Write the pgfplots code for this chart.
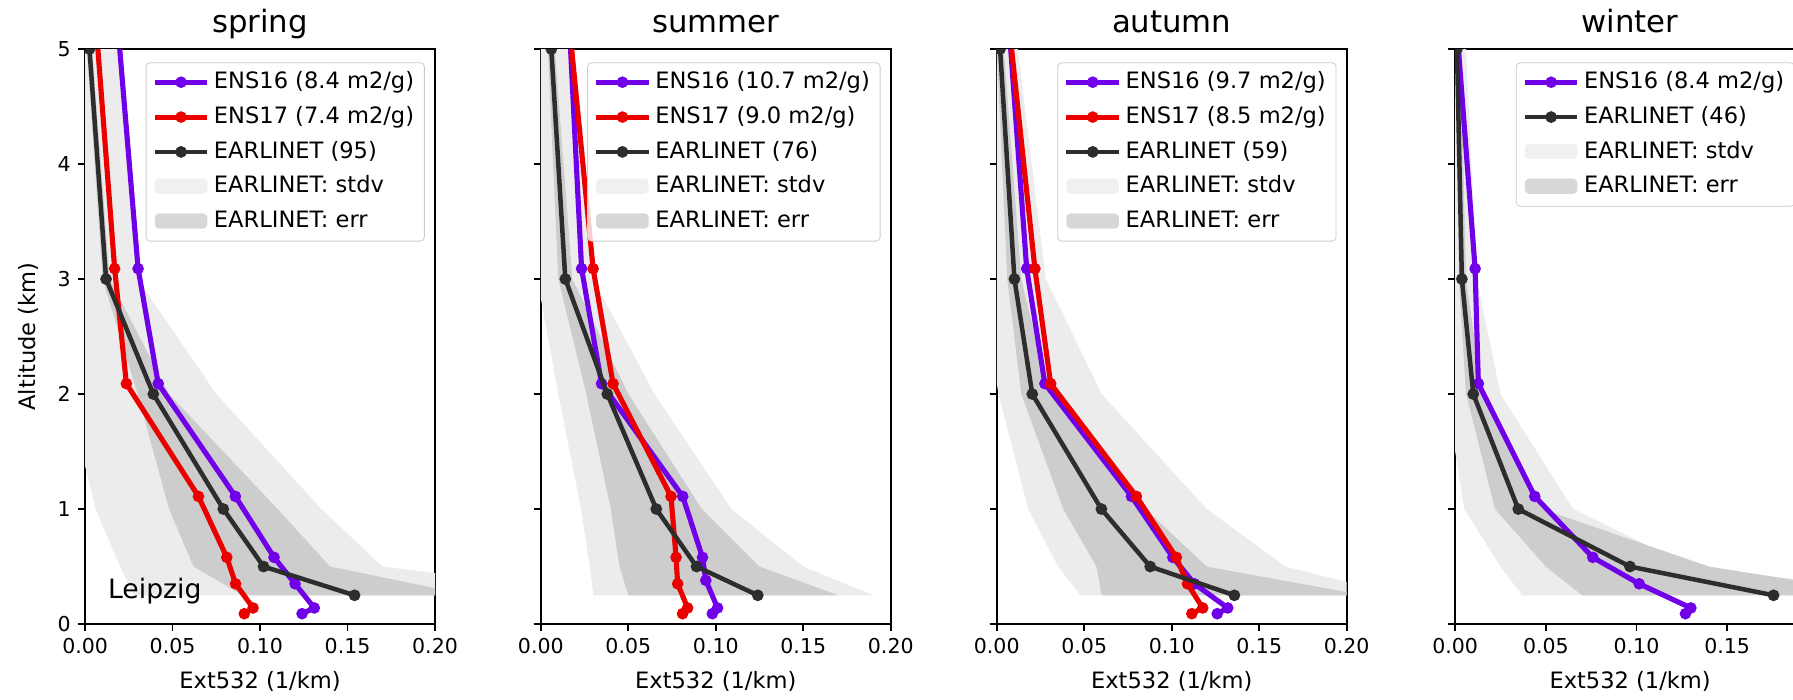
\documentclass[border=0pt]{standalone}
\usepackage{pgfplots}
\pgfplotsset{compat=1.18}
\usepackage{fontspec}
\setmainfont{DejaVu Sans}

\definecolor{ens16}{RGB}{112,0,232}
\definecolor{ens17}{RGB}{235,0,0}
\definecolor{earl}{RGB}{45,45,45}
\definecolor{stdvfill}{RGB}{236,236,236}
\definecolor{errfill}{RGB}{205,205,205}

\pgfplotsset{
  longleg/.style={legend image code/.code={\draw[mark repeat=2,mark phase=2,##1] plot coordinates {(0cm,0cm) (0.45cm,0cm) (0.9cm,0cm)};}},
  fillleg/.style={legend image code/.code={\fill[##1] (0cm,-0.12cm) rectangle (0.9cm,0.14cm);}},
  season/.style={
    scale only axis, width=170.7pt, height=280.5pt,
    xmin=0, xmax=0.2, ymin=0, ymax=5,
    xtick={0,0.05,0.1,0.15,0.2}, ytick={0,1,2,3,4,5},
    tick align=outside, tick pos=left,
    major tick length=3.5pt,
    tick style={black, line width=0.8pt},
    axis line style={line width=0.8pt},
    xticklabel style={/pgf/number format/fixed, /pgf/number format/fixed zerofill, /pgf/number format/precision=2},
    /pgf/number format/assume math mode=true,
    tick label style={font=\fontsize{10}{12}\selectfont},
    label style={font=\fontsize{11}{13}\selectfont},
    every axis title/.style={at={(0.5,1)}, anchor=base, yshift=8pt, font=\fontsize{15}{18}\selectfont},
    xlabel={Ext532 (1/km)},
    xlabel style={at={(axis description cs:0.5,-0.099)}, anchor=center},
    legend style={at={(1,1)}, anchor=north east, xshift=-5pt, yshift=-6.5pt,
      font=\fontsize{11}{13}\selectfont, draw=black!20, rounded corners=2pt,
      fill=white, fill opacity=0.8, text opacity=1, row sep=2pt,
      nodes={inner sep=2pt, text height=8.5pt, text depth=2.5pt}},
    legend cell align=left,
    clip marker paths=true,
  },
  ens16line/.style={color=ens16, line width=2.5pt, mark=*, mark size=1.5pt, longleg},
  ens17line/.style={color=ens17, line width=2.5pt, mark=*, mark size=1.5pt, longleg},
  earlline/.style={color=earl, line width=2.2pt, mark=*, mark size=1.7pt, longleg},
  stdvarea/.style={fill=stdvfill, draw=none, forget plot},
  errarea/.style={fill=errfill, draw=none, forget plot},
}

\begin{document}
\begin{tikzpicture}
\useasboundingbox (0,0) rectangle (874.6pt,341pt);
\clip (0,0) rectangle (874.6pt,341pt);

% spring
\begin{axis}[season, at={(41.5pt,36.6pt)}, anchor=south west, title={spring},
  ylabel={Altitude (km)},
  ylabel style={at={(axis description cs:-0.163,0.5)}, anchor=center}]
\addplot[stdvarea] coordinates {(0.028,0.25) (0.020,0.5) (0.006,1) (-0.010,2) (-0.020,3) (-0.020,5)
  (0.020,5) (0.030,3) (0.075,2) (0.135,1) (0.170,0.5) (0.300,0.25)} -- cycle;
\addplot[errarea] coordinates {(0.090,0.25) (0.062,0.5) (0.048,1) (0.030,2) (0.010,3) (0.001,5)
  (0.004,5) (0.014,3) (0.048,2) (0.110,1) (0.140,0.5) (0.220,0.25)} -- cycle;
\addplot[ens16line] coordinates {(0.0143,6) (0.0303,3.09) (0.0418,2.09) (0.0859,1.11) (0.108,0.58) (0.120,0.35) (0.131,0.14) (0.124,0.09)};
\addlegendentry{ENS16 (8.4 m2/g)}
\addplot[ens17line] coordinates {(0.0023,6) (0.0169,3.09) (0.0236,2.09) (0.0648,1.11) (0.081,0.58) (0.086,0.35) (0.096,0.14) (0.091,0.09)};
\addlegendentry{ENS17 (7.4 m2/g)}
\addplot[earlline] coordinates {(0.0025,5) (0.012,3) (0.039,2) (0.079,1) (0.102,0.5) (0.154,0.25)};
\addlegendentry{EARLINET (95)}
\addlegendimage{fillleg, fill=stdvfill, draw=none}
\addlegendentry{EARLINET: stdv}
\addlegendimage{fillleg, fill=errfill, draw=none}
\addlegendentry{EARLINET: err}
\node[anchor=west, font=\fontsize{13}{15}\selectfont] at (axis cs:0.009,0.29) {Leipzig};
\end{axis}

% summer
\begin{axis}[season, at={(263.8pt,36.6pt)}, anchor=south west, title={summer},
  yticklabel=\empty]
\addplot[stdvarea] coordinates {(0.030,0.25) (0.028,0.5) (0.023,1) (0.010,2) (-0.002,3) (-0.004,5)
  (0.016,5) (0.030,3) (0.065,2) (0.109,1) (0.150,0.5) (0.190,0.25)} -- cycle;
\addplot[errarea] coordinates {(0.050,0.25) (0.045,0.5) (0.040,1) (0.026,2) (0.010,3) (0.004,5)
  (0.008,5) (0.018,3) (0.050,2) (0.092,1) (0.125,0.5) (0.170,0.25)} -- cycle;
\addplot[ens16line] coordinates {(0.0137,6) (0.0233,3.09) (0.0347,2.09) (0.0811,1.11) (0.0924,0.58) (0.0943,0.38) (0.101,0.14) (0.098,0.09)};
\addlegendentry{ENS16 (10.7 m2/g)}
\addplot[ens17line] coordinates {(0.0112,6) (0.0299,3.09) (0.0413,2.09) (0.0744,1.11) (0.0773,0.58) (0.0782,0.35) (0.0839,0.14) (0.081,0.09)};
\addlegendentry{ENS17 (9.0 m2/g)}
\addplot[earlline] coordinates {(0.006,5) (0.014,3) (0.038,2) (0.066,1) (0.089,0.5) (0.124,0.25)};
\addlegendentry{EARLINET (76)}
\addlegendimage{fillleg, fill=stdvfill, draw=none}
\addlegendentry{EARLINET: stdv}
\addlegendimage{fillleg, fill=errfill, draw=none}
\addlegendentry{EARLINET: err}
\end{axis}

% autumn
\begin{axis}[season, at={(486.2pt,36.6pt)}, anchor=south west, title={autumn},
  yticklabel=\empty]
\addplot[stdvarea] coordinates {(0.048,0.25) (0.035,0.5) (0.018,1) (0.001,2) (-0.010,3) (-0.010,5)
  (0.012,5) (0.028,3) (0.060,2) (0.120,1) (0.165,0.5) (0.230,0.25)} -- cycle;
\addplot[errarea] coordinates {(0.060,0.25) (0.057,0.5) (0.038,1) (0.014,2) (0.006,3) (0.000,5)
  (0.004,5) (0.014,3) (0.030,2) (0.085,1) (0.120,0.5) (0.210,0.25)} -- cycle;
\addplot[ens16line] coordinates {(0.0032,6) (0.0171,3.09) (0.0275,2.09) (0.077,1.11) (0.1006,0.58) (0.113,0.35) (0.132,0.14) (0.126,0.09)};
\addlegendentry{ENS16 (9.7 m2/g)}
\addplot[ens17line] coordinates {(0.0015,6) (0.0218,3.09) (0.0308,2.09) (0.0798,1.11) (0.1026,0.58) (0.109,0.35) (0.1177,0.14) (0.1115,0.09)};
\addlegendentry{ENS17 (8.5 m2/g)}
\addplot[earlline] coordinates {(0.0019,5) (0.0101,3) (0.0203,2) (0.0598,1) (0.0877,0.5) (0.1358,0.25)};
\addlegendentry{EARLINET (59)}
\addlegendimage{fillleg, fill=stdvfill, draw=none}
\addlegendentry{EARLINET: stdv}
\addlegendimage{fillleg, fill=errfill, draw=none}
\addlegendentry{EARLINET: err}
\end{axis}

% winter
\begin{axis}[season, at={(709.8pt,36.6pt)}, anchor=south west, title={winter},
  xmax=0.193, xtick={0,0.05,0.1,0.15}, yticklabel=\empty]
\addplot[stdvarea] coordinates {(0.037,0.25) (0.025,0.5) (0.005,1) (-0.005,2) (-0.010,3) (-0.010,5)
  (0.006,5) (0.012,3) (0.025,2) (0.065,1) (0.130,0.5) (0.260,0.25)} -- cycle;
\addplot[errarea] coordinates {(0.070,0.25) (0.050,0.5) (0.022,1) (0.006,2) (0.002,3) (0.000,5)
  (0.003,5) (0.006,3) (0.015,2) (0.048,1) (0.140,0.5) (0.240,0.25)} -- cycle;
\addplot[ens16line] coordinates {(-0.003,6) (0.011,3.09) (0.0128,2.09) (0.0439,1.11) (0.0759,0.58) (0.1015,0.35) (0.130,0.14) (0.127,0.09)};
\addlegendentry{ENS16 (8.4 m2/g)}
\addplot[earlline] coordinates {(0.001,5) (0.0037,3) (0.010,2) (0.0348,1) (0.0964,0.5) (0.1756,0.25)};
\addlegendentry{EARLINET (46)}
\addlegendimage{fillleg, fill=stdvfill, draw=none}
\addlegendentry{EARLINET: stdv}
\addlegendimage{fillleg, fill=errfill, draw=none}
\addlegendentry{EARLINET: err}
\end{axis}
\end{tikzpicture}
\end{document}
